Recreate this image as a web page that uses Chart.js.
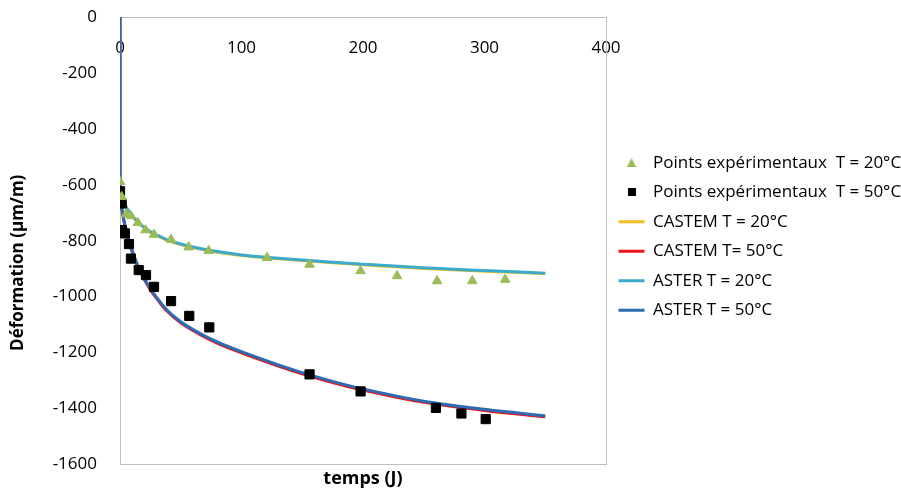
<!DOCTYPE html>
<html lang="fr">
<head>
<meta charset="UTF-8">
<title>Déformation en fonction du temps</title>
<script src="https://cdn.jsdelivr.net/npm/chart.js"></script>
<style>
  html, body { margin: 0; padding: 0; background: #fff; }
  #wrap { width: 901px; height: 491px; }
</style>
</head>
<body>
<div id="wrap"><canvas id="chart" width="901" height="491"></canvas></div>
<script>
const tExp20 = [0, 1.4, 5, 9, 14.6, 21, 28, 42, 56.5, 73, 121, 156, 198, 228, 261, 290, 317];
const vExp20 = [-589, -643, -705, -711, -736, -762, -778, -796, -823, -836, -861, -885, -908, -926, -944, -944, -939];

const tExp50 = [0, 1.4, 1.6, 4, 7.4, 9, 15.4, 21.4, 28, 42, 57, 73.5, 156, 198, 260, 281, 301];
const vExp50 = [-623, -667, -762, -774, -812, -864, -905, -923, -965, -1016, -1069, -1110, -1278, -1339, -1398, -1418, -1438];

// model curves
const tModel = [0, 0, 0.5, 1.5, 3, 5.5, 8, 11, 14, 18, 25, 32, 38, 50, 66, 80, 100, 125, 150, 175, 200, 250, 300, 350];
const vCastem20 = [0, -600, -617, -637, -660, -685, -702, -717, -731, -747, -770, -785, -797, -814, -830, -841, -853, -863, -871, -879, -886, -899, -909, -918];
const vCastem50 = [0, -600, -651, -687, -726, -774, -812, -852, -886, -922, -976, -1017, -1049, -1094, -1136, -1166, -1201, -1240, -1276, -1307, -1334, -1378, -1407, -1430];
const vAster20 = [0, -600, -615, -635, -658, -683, -700, -715, -729, -745, -768, -783, -795, -812, -828, -839, -851, -861, -869, -877, -884, -897, -907, -916];
const vAster50 = [0, -600, -648, -683, -722, -770, -808, -848, -882, -918, -972, -1013, -1045, -1090, -1132, -1162, -1197, -1236, -1272, -1303, -1330, -1374, -1403, -1426];

const xTicks = [0, 100, 200, 300, 400];
const yTicks = [0, -200, -400, -600, -800, -1000, -1200, -1400, -1600];

const FONT = "'Open Sans', 'DejaVu Sans', sans-serif";
const FRAME = '#bfbfbf';
const LEGEND_W = 295;

function pts(xs, ys) {
  return xs.map((x, i) => ({ x: x, y: ys[i] }));
}

function curve(label, ys, color, order) {
  return {
    label: label,
    data: pts(tModel, ys),
    borderColor: color,
    backgroundColor: color,
    borderWidth: 3,
    pointRadius: 0,
    pointStyle: 'line',
    cubicInterpolationMode: 'monotone',
    fill: false,
    order: order
  };
}

// small legend markers for the two point series
function icon(w, h, draw) {
  const c = document.createElement('canvas');
  c.width = w; c.height = h;
  draw(c.getContext('2d'));
  return c;
}
const triIcon = icon(10, 9, g => {
  g.fillStyle = '#9bbb59';
  g.beginPath(); g.moveTo(5, 0); g.lineTo(10, 9); g.lineTo(0, 9); g.closePath(); g.fill();
});
const sqIcon = icon(8, 8, g => { g.fillStyle = '#000'; g.fillRect(0, 0, 8, 8); });
const legendIcons = { 0: triIcon, 1: sqIcon };

const datasets = [
  {
    label: 'Points expérimentaux  T = 20°C',
    data: pts(tExp20, vExp20),
    showLine: false,
    pointStyle: 'triangle',
    pointRadius: 5.5,
    backgroundColor: '#9bbb59',
    borderColor: '#9bbb59',
    borderWidth: 1,
    order: 0
  },
  {
    label: 'Points expérimentaux  T = 50°C',
    data: pts(tExp50, vExp50),
    showLine: false,
    pointStyle: 'rect',
    pointRadius: 6.5,
    backgroundColor: '#000',
    borderColor: '#000',
    borderWidth: 1,
    order: 1
  },
  curve('CASTEM T = 20°C', vCastem20, '#f5bd1f', 5),
  curve('CASTEM T= 50°C', vCastem50, '#e8161b', 4),
  curve('ASTER T = 20°C', vAster20, '#3aabcb', 3),
  curve('ASTER T = 50°C', vAster50, '#2d6cb2', 2)
];

// the layout caps a side legend at a quarter of the width; widen it
const wideLegend = {
  id: 'wideLegend',
  beforeLayout(chart) {
    const lg = chart.legend;
    if (lg && !lg._wide) {
      const fit = lg.fit;
      lg.fit = function () { fit.call(this); this.width = LEGEND_W; };
      lg._wide = true;
    }
  }
};

new Chart(document.getElementById('chart'), {
  type: 'line',
  data: { datasets: datasets },
  plugins: [wideLegend],
  options: {
    responsive: false,
    animation: false,
    layout: { padding: { top: 17, right: 0, bottom: 0, left: 0 } },
    plugins: {
      tooltip: { enabled: false },
      legend: {
        position: 'right',
        fullSize: false,
        align: 'start',
        title: { display: true, text: ' ', font: { size: 14 }, padding: { top: 108, bottom: 0 } },
        labels: {
          usePointStyle: true,
          pointStyleWidth: 26,
          boxHeight: 7,
          padding: 12.5,
          color: '#000',
          font: { family: FONT, size: 17 },
          sort: (a, b) => a.datasetIndex - b.datasetIndex,
          generateLabels: chart => {
            const items = Chart.defaults.plugins.legend.labels.generateLabels(chart);
            items.forEach(it => {
              if (legendIcons[it.datasetIndex]) it.pointStyle = legendIcons[it.datasetIndex];
            });
            return items;
          }
        }
      }
    },
    scales: {
      x: {
        type: 'linear',
        position: { y: 0 },
        min: 0,
        max: 400,
        afterBuildTicks: s => { s.ticks = xTicks.map(v => ({ value: v })); },
        grid: { display: false, drawTicks: false },
        border: { display: true, color: FRAME, width: 1 },
        ticks: { color: '#000', padding: 21, maxRotation: 0, font: { family: FONT, size: 17 } }
      },
      xb: {
        type: 'linear',
        position: 'bottom',
        min: 0,
        max: 400,
        grid: { display: false, drawTicks: false },
        border: { display: true, color: FRAME, width: 1 },
        ticks: { display: false },
        title: {
          display: true,
          text: 'temps (J)',
          color: '#000',
          padding: { top: 4, bottom: 1 },
          font: { family: FONT, size: 18, weight: 'bold' }
        }
      },
      y: {
        type: 'linear',
        position: 'left',
        min: -1600,
        max: 0,
        afterBuildTicks: s => { s.ticks = yTicks.map(v => ({ value: v })); },
        afterFit: s => { s.width = 120; s.paddingTop = 0; s.paddingBottom = 0; },
        grid: { display: false, drawTicks: false },
        border: { display: true, color: FRAME, width: 1 },
        ticks: {
          color: '#000',
          padding: 23,
          font: { family: FONT, size: 17 },
          callback: v => String(v)
        },
        title: {
          display: true,
          text: 'Déformation (µm/m)          ',
          color: '#000',
          padding: { top: 8, bottom: 0 },
          font: { family: FONT, size: 17, weight: 'bold' }
        }
      },
      yr: {
        type: 'linear',
        position: 'right',
        min: -1600,
        max: 0,
        afterFit: s => { s.width = 0; },
        grid: { display: false, drawTicks: false },
        border: { display: true, color: FRAME, width: 1 },
        ticks: { display: false }
      }
    }
  }
});
</script>
</body>
</html>
